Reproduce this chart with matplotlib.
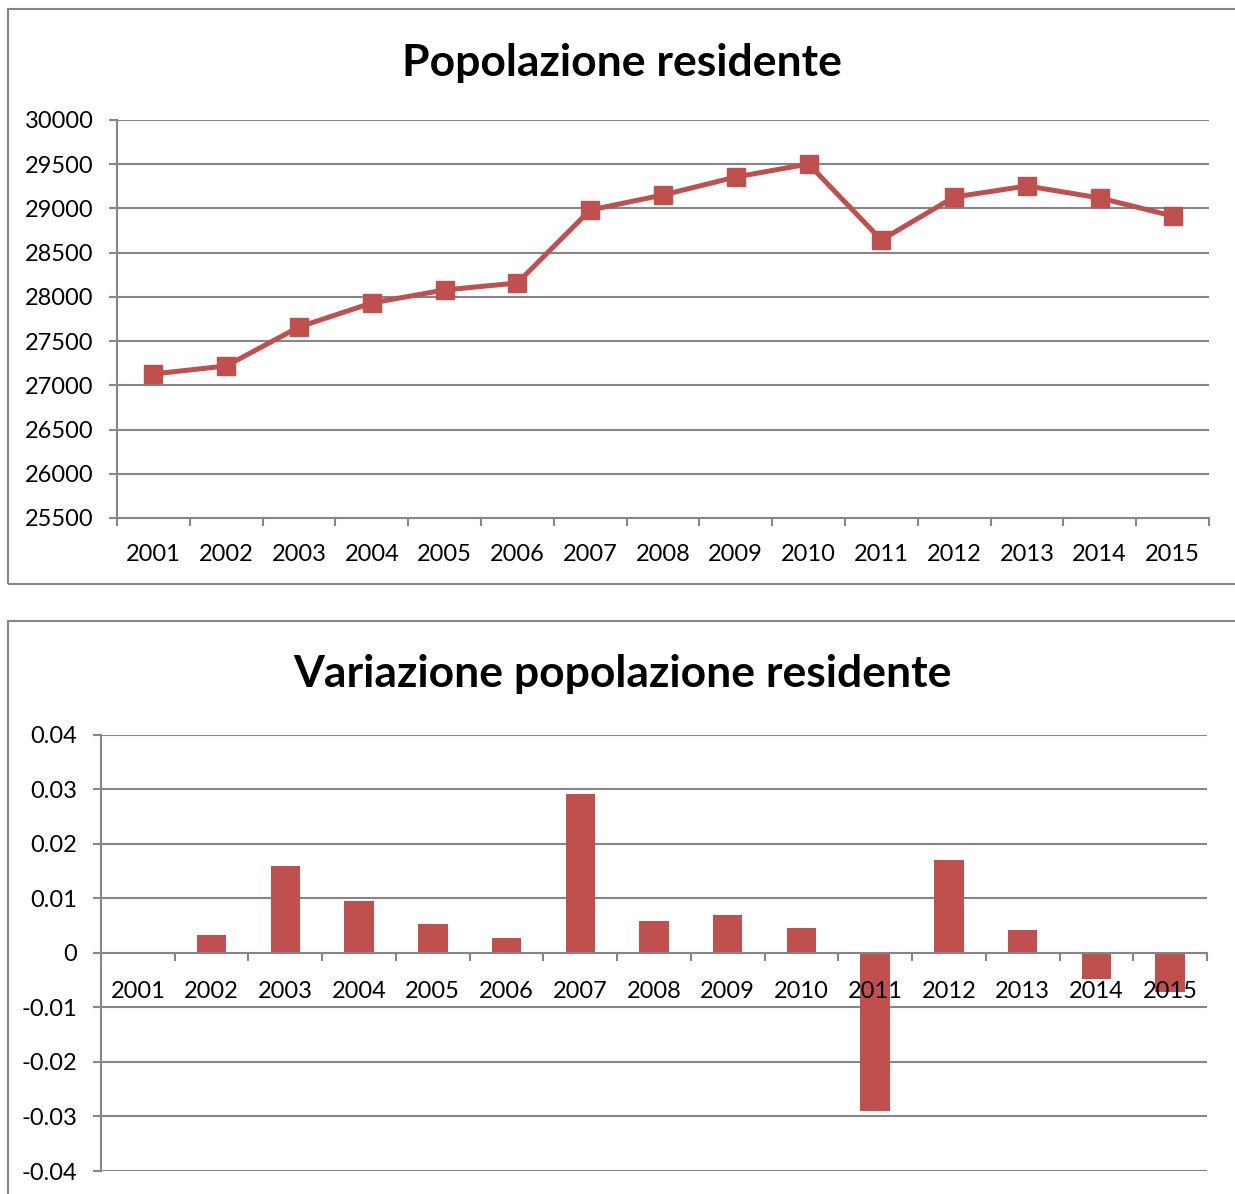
import matplotlib
matplotlib.use('Agg')
import matplotlib.pyplot as plt
from matplotlib.patches import Rectangle

plt.rcParams['font.family'] = ['Lato', 'DejaVu Sans']

anni = ['2001', '2002', '2003', '2004', '2005', '2006', '2007', '2008',
        '2009', '2010', '2011', '2012', '2013', '2014', '2015']
popolazione = [27128, 27219, 27659, 27931, 28078, 28157, 28982, 29152,
               29355, 29503, 28643, 29129, 29254, 29118, 28915]
variazione = [0.0, 0.0033, 0.0160, 0.0095, 0.0053, 0.0028, 0.0292, 0.0059,
              0.0070, 0.0046, -0.0290, 0.0171, 0.0042, -0.0048, -0.0072]

ROSSO = '#C0504D'
GRIGIO = '#868686'

fig = plt.figure(figsize=(12.35, 11.94), dpi=100)

# cornici dei due grafici
fig.patches.append(Rectangle((0.0065, 0.5109), 1.2, 0.4815, transform=fig.transFigure,
                             fill=False, edgecolor=GRIGIO, linewidth=1.5))
fig.patches.append(Rectangle((0.0065, -0.2), 1.2, 0.68, transform=fig.transFigure,
                             fill=False, edgecolor=GRIGIO, linewidth=1.5))

x = list(range(len(anni)))


def stile_asse(ax):
    for s in ['top', 'right']:
        ax.spines[s].set_visible(False)
    for s in ['left', 'bottom']:
        ax.spines[s].set_color(GRIGIO)
        ax.spines[s].set_linewidth(1.5)
    ax.set_xlim(-0.5, len(anni) - 0.5)
    ax.set_xticks(x)
    ax.set_xticklabels(anni)
    ax.set_xticks([i - 0.5 for i in range(len(anni) + 1)], minor=True)
    ax.tick_params(axis='x', which='major', length=0, labelsize=17)
    ax.tick_params(axis='x', which='minor', length=6, width=1.5, color=GRIGIO, direction='out')
    ax.tick_params(axis='y', length=6, width=1.5, color=GRIGIO, labelsize=17, pad=11)


# grafico 1: popolazione residente
ax1 = fig.add_axes([0.0947, 0.5662, 0.8842, 0.3333])
stile_asse(ax1)
ax1.set_ylim(25500, 30000)
ax1.set_yticks(range(25500, 30001, 500))
for v in range(26000, 30001, 500):
    ax1.axhline(v, color=GRIGIO, linewidth=1.5, zorder=0.5)
ax1.plot(x, popolazione, color=ROSSO, linewidth=3.6, marker='s', markersize=13,
         zorder=3, clip_on=False)
ax1.tick_params(axis='x', which='major', pad=18.5)
fig.text(0.5036, 0.9475, 'Popolazione residente', ha='center', va='center',
         fontsize=32, fontweight='bold')

# grafico 2: variazione popolazione residente
ax2 = fig.add_axes([0.0818, 0.01926, 0.8955, 0.3652])
stile_asse(ax2)
ax2.set_ylim(-0.04, 0.04)
yt = [-0.04, -0.03, -0.02, -0.01, 0, 0.01, 0.02, 0.03, 0.04]
ax2.set_yticks(yt)
ax2.set_yticklabels(['-0.04', '-0.03', '-0.02', '-0.01', '0', '0.01', '0.02', '0.03', '0.04'])
for v in yt:
    if v != 0:
        ax2.axhline(v, color=GRIGIO, linewidth=1.5, zorder=0.5)
ax2.spines['bottom'].set_position(('data', 0))
ax2.bar(x, variazione, width=0.4, color=ROSSO, zorder=1)
ax2.tick_params(axis='x', which='major', pad=20)
fig.text(0.5036, 0.4352, 'Variazione popolazione residente', ha='center', va='center',
         fontsize=32, fontweight='bold')

fig.savefig('out.png', dpi=100)
